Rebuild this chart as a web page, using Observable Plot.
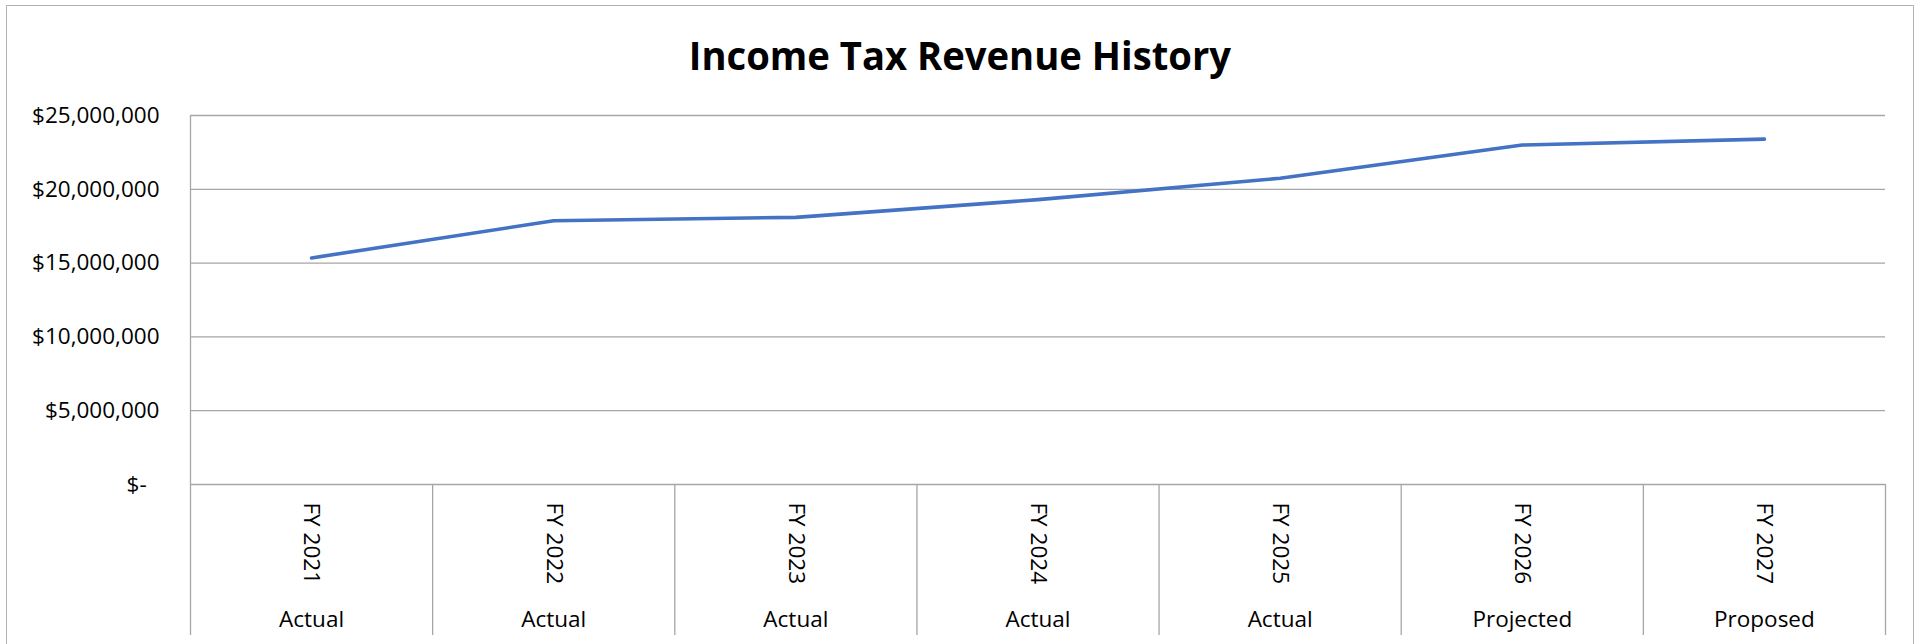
<!DOCTYPE html>
<html><head><meta charset="utf-8">
<script src="https://cdn.jsdelivr.net/npm/d3@7"></script>
<script src="https://cdn.jsdelivr.net/npm/@observablehq/plot@0.6"></script>
<style>
html,body{margin:0;padding:0;background:#fff;}
body{position:relative;width:1923px;height:644px;overflow:hidden;font-family:"Open Sans",sans-serif;}
#frame{position:absolute;left:6px;top:5px;width:1908px;height:700px;border:1.5px solid #b3b3b3;box-sizing:border-box;}
#title{position:absolute;left:6px;width:1908px;top:34.5px;text-align:center;font:700 40px/40px "Open Sans",sans-serif;color:#000;white-space:nowrap;}
#titletext{display:inline-block;transform:scaleX(0.955);transform-origin:50% 50%;}
#plot{position:absolute;left:0;top:80px;}
</style></head><body>
<div id="frame"></div>
<div id="title"><span id="titletext">Income Tax Revenue History</span></div>
<div id="plot"></div>
<script>
const categories = ["FY 2021", "FY 2022", "FY 2023", "FY 2024", "FY 2025", "FY 2026", "FY 2027"];
const statuses = ["Actual", "Actual", "Actual", "Actual", "Actual", "Projected", "Proposed"];
const revenue = [15350000, 17870000, 18100000, 19300000, 20750000, 23000000, 23400000];
const yTicks = [0, 5000000, 10000000, 15000000, 20000000, 25000000];

const data = categories.map((c, i) => ({pos: i + 0.5, category: c, status: statuses[i], value: revenue[i]}));
const edges = d3.range(categories.length + 1);
const grid = "#a6a6a6";

const chart = Plot.plot({
  width: 1923, height: 564,
  marginLeft: 190, marginRight: 38, marginTop: 35, marginBottom: 160,
  style: {fontFamily: "'Open Sans', sans-serif", fontSize: "22.5px", color: "#000", background: "transparent", overflow: "visible"},
  x: {domain: [0, categories.length], axis: null, label: null},
  y: {domain: [0, 25000000], axis: null, label: null},
  marks: [
    Plot.gridY(yTicks, {stroke: grid, strokeOpacity: 1, strokeWidth: 1.3}),
    Plot.axisY(yTicks, {tickSize: 0, tickPadding: 31, fontSize: 22.5, fill: "#000", label: null,
      tickFormat: d => d === 0 ? "$-\u2007" : "$" + d3.format(",")(d)}),
    Plot.ruleX([0], {y1: 0, y2: 25000000, stroke: grid, strokeWidth: 1.3}),
    Plot.axisX(edges, {tickSize: 151, tickFormat: () => "", label: null, stroke: grid, strokeWidth: 1.3, strokeOpacity: 1}),
    Plot.line(data, {x: "pos", y: "value", stroke: "#4472C4", strokeWidth: 3.6, strokeLinecap: "round", strokeLinejoin: "round"}),
    Plot.text(data, {x: "pos", text: "category", frameAnchor: "bottom", dy: 18, rotate: 90, textAnchor: "start", lineAnchor: "middle", fontSize: 22.5, fill: "#000"}),
    Plot.text(data, {x: "pos", text: "status", frameAnchor: "bottom", dy: 142.4, lineAnchor: "bottom", fontSize: 22.5, fill: "#000"})
  ]
});
document.getElementById("plot").appendChild(chart);
</script>
</body></html>
